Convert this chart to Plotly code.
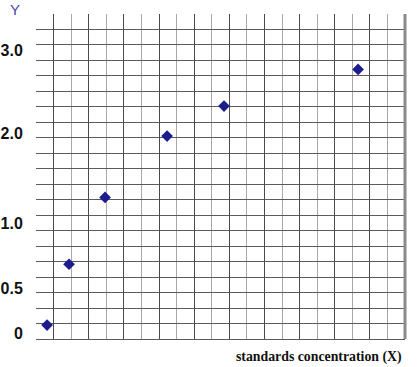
import plotly.graph_objects as go

# data in grid units of the chart (21 x 21 grid)
x_vals = [0.63, 1.88, 3.93, 7.46, 10.70, 18.33]
y_vals = [0.90, 4.83, 9.15, 13.11, 15.05, 17.42]

y_tick_pos = [0.36, 3.26, 7.46, 13.31, 18.67]
y_tick_text = ["0", "0.5", "1.0", "2.0", "3.0"]

x_title = "standards concentration (X)"
y_title = "Y"

fig = go.Figure()
fig.add_trace(go.Scatter(
    x=x_vals, y=y_vals, mode="markers",
    marker=dict(symbol="diamond", size=9, color="#1c1c8c", line=dict(width=0)),
    showlegend=False, hoverinfo="skip",
))

fig.update_layout(
    width=418, height=367,
    margin=dict(l=36, r=13, t=14, b=28),
    paper_bgcolor="white", plot_bgcolor="white",
    xaxis=dict(
        range=[0, 21], tickmode="linear", tick0=1, dtick=2,
        showgrid=True, gridcolor="#4a4a4a", gridwidth=1,
        minor=dict(tickmode="linear", tick0=0, dtick=1, showgrid=True,
                   gridcolor="#a8a8a8", gridwidth=1),
        showticklabels=False, zeroline=False, showline=False, ticks="",
        fixedrange=True, automargin=False,
    ),
    yaxis=dict(
        range=[0, 21], tickmode="array", tickvals=y_tick_pos, ticktext=y_tick_text,
        showgrid=False,
        minor=dict(tickmode="linear", tick0=0, dtick=1, showgrid=True,
                   gridcolor="#5a5a5a", gridwidth=1),
        zeroline=True, zerolinecolor="#5a5a5a", zerolinewidth=1,
        showline=False, ticks="outside", ticklen=9, tickcolor="rgba(0,0,0,0)",
        tickfont=dict(family="Liberation Sans, Arial, sans-serif", size=16, color="#111111", weight="bold"),
        fixedrange=True, automargin=False,
    ),
    shapes=[dict(type="line", xref="paper", yref="paper", x0=1, x1=1, y0=0, y1=1,
                 line=dict(color="#8a8a8a", width=3))],
    annotations=[
        dict(text=x_title, xref="paper", yref="paper", x=1, y=0, xanchor="right", yanchor="top",
             xshift=-1, yshift=-8, showarrow=False,
             font=dict(family="Liberation Serif, Times New Roman, serif", size=13.8, color="#111111", weight="bold")),
        dict(text=y_title, xref="paper", yref="paper", x=0, y=1, xanchor="center", yanchor="middle",
             xshift=-21, yshift=5, showarrow=False,
             font=dict(family="Liberation Sans, Arial, sans-serif", size=15, color="#4848b0")),
    ],
)

fig.write_html("out.html")
